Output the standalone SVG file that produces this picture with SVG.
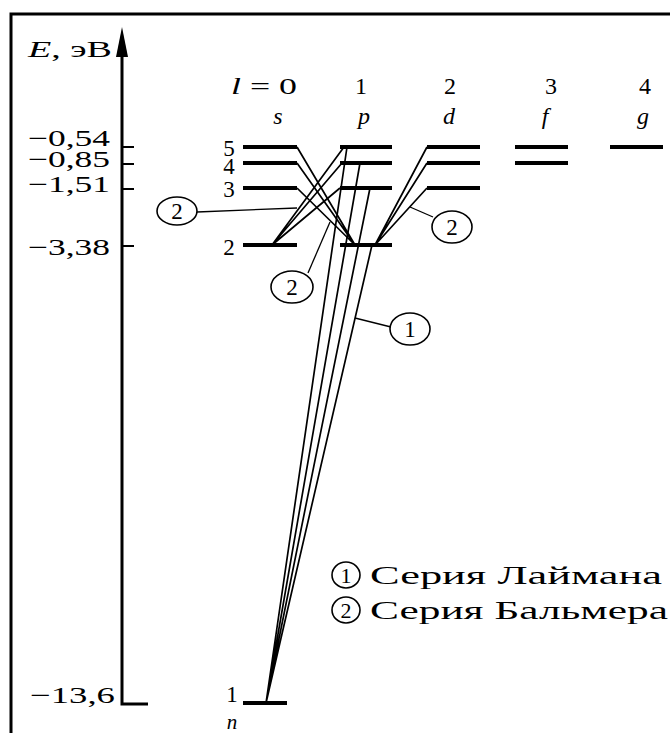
<svg xmlns="http://www.w3.org/2000/svg" width="670" height="733" viewBox="0 0 670 733" font-family="'Liberation Serif', 'DejaVu Serif', serif">
<style>
text{font-family:"Liberation Serif","DejaVu Serif",serif;fill:#000}
.i{font-style:italic}
.lv{stroke:#000;stroke-width:4;fill:none}
.tr{stroke:#000;stroke-width:1.7;fill:none}
.ld{stroke:#000;stroke-width:1.3;fill:none}
.c{fill:#fff;stroke:#000;stroke-width:1.6}
</style>
<rect width="670" height="733" fill="#fff"/>
<g id="frame"><path d="M11,733 V14 H670" stroke="#000" stroke-width="3" fill="none"/></g>
<g id="axis">
<path d="M122,50 V704 H148" stroke="#000" stroke-width="3" fill="none"/>
<polygon points="122,27 116,57 128,57" fill="#000"/>
<path d="M122,147 H134 M122,164 H134 M122,189 H134 M122,246 H134" stroke="#000" stroke-width="2"/>
<text x="28" y="57" font-size="24" textLength="84" lengthAdjust="spacingAndGlyphs"><tspan class="i">E</tspan>, эВ</text>
<text x="28" y="146" font-size="23" textLength="82" lengthAdjust="spacingAndGlyphs">−0,54</text>
<text x="28" y="167" font-size="23" textLength="82" lengthAdjust="spacingAndGlyphs">−0,85</text>
<text x="28" y="192" font-size="23" textLength="82" lengthAdjust="spacingAndGlyphs">−1,51</text>
<text x="28" y="255" font-size="23" textLength="82" lengthAdjust="spacingAndGlyphs">−3,38</text>
<text x="30" y="703" font-size="23" textLength="85" lengthAdjust="spacingAndGlyphs">−13,6</text>
</g>
<g id="header" font-size="24" text-anchor="middle">
<text x="264" y="94" textLength="66" lengthAdjust="spacingAndGlyphs"><tspan class="i">l</tspan> = 0</text>
<text x="361" y="94">1</text>
<text x="450" y="94">2</text>
<text x="551" y="94">3</text>
<text x="645" y="94">4</text>
<text class="i" x="278" y="124">s</text>
<text class="i" x="364" y="124">p</text>
<text class="i" x="449" y="124">d</text>
<text class="i" x="545" y="124">f</text>
<text class="i" x="643" y="124">g</text>
</g>
<g id="level-s">
<path class="lv" d="M243,147 H297 M243,163 H297 M243,188 H297 M243,245 H297"/>
<g font-size="23" text-anchor="middle">
<text x="229" y="156">5</text><text x="229" y="174">4</text><text x="229" y="197">3</text><text x="229" y="255">2</text>
</g>
</g>
<g id="level-p"><path class="lv" d="M340,147 H392 M340,163 H392 M340,188 H392 M340,245 H392"/></g>
<g id="level-d"><path class="lv" d="M427,147 H480 M427,163 H480 M427,188 H480"/></g>
<g id="level-f"><path class="lv" d="M515,147 H568 M515,163 H568"/></g>
<g id="level-g"><path class="lv" d="M610,147 H663"/></g>
<g id="level-1">
<path class="lv" d="M243,703 H287" stroke-width="3"/>
<text x="232" y="702" font-size="23" text-anchor="middle">1</text>
<text class="i" x="232" y="729" font-size="21" text-anchor="middle">n</text>
</g>
<g id="connectors">
<path class="tr" d="M297,147 L355,245 M297,163 L355,245 M297,188 L355,245"/>
<path class="tr" d="M272,245 L344,147 M272,245 L342,163 M272,245 L340,188"/>
<path class="tr" d="M375,245 L427,147 M375,245 L427,163 M375,245 L427,188"/>
<path class="tr" d="M347,147 L266,703 M360,163 L266,703 M370,188 L266,703 M372,245 L266,703"/>
<path class="ld" d="M197,212 L297,208"/>
<path class="ld" d="M308,273 L330,222"/>
<path class="ld" d="M433,217 L410,207"/>
<path class="ld" d="M391,327 L355,318"/>
</g>
<g id="label-b1"><ellipse class="c" cx="177" cy="211" rx="20" ry="14"/><text x="177" y="219" font-size="23" text-anchor="middle">2</text></g>
<g id="label-b2"><ellipse class="c" cx="292" cy="287" rx="21" ry="16"/><text x="292" y="295" font-size="23" text-anchor="middle">2</text></g>
<g id="label-b3"><ellipse class="c" cx="452" cy="227" rx="20" ry="16"/><text x="452" y="235" font-size="23" text-anchor="middle">2</text></g>
<g id="label-l1"><ellipse class="c" cx="410" cy="329" rx="20" ry="16"/><text x="410" y="337" font-size="23" text-anchor="middle">1</text></g>
<g id="legend">
<ellipse class="c" cx="346" cy="575" rx="14" ry="13"/><text x="346" y="583" font-size="22" text-anchor="middle">1</text>
<text x="370" y="584" font-size="26" textLength="292" lengthAdjust="spacingAndGlyphs">Серия Лаймана</text>
<ellipse class="c" cx="346" cy="610" rx="14" ry="13"/><text x="346" y="618" font-size="22" text-anchor="middle">2</text>
<text x="370" y="619" font-size="26" textLength="298" lengthAdjust="spacingAndGlyphs">Серия Бальмера</text>
</g>
</svg>
